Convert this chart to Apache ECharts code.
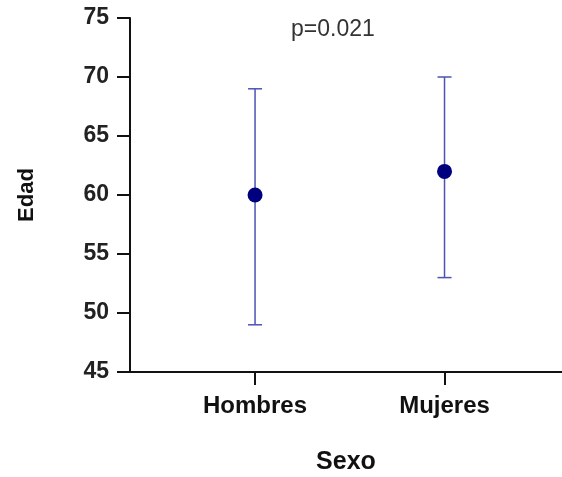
<!DOCTYPE html>
<html>
<head>
<meta charset="utf-8">
<script src="https://cdn.jsdelivr.net/npm/echarts@6/dist/echarts.min.js"></script>
<style>html,body{margin:0;padding:0;background:#fff}#c{width:562px;height:477px}</style>
</head>
<body>
<div id="c"></div>
<script>
var categories = ['Hombres', 'Mujeres'];
var catPositions = [1, 2];
var means = [60, 62];
var lows = [49, 53];
var highs = [69, 70];
var yTicks = [45, 50, 55, 60, 65, 70, 75];
var pText = 'p=0.021';

var chart = echarts.init(document.getElementById('c'));
var errData = catPositions.map(function (x, i) { return [x, lows[i], highs[i]]; });
var meanData = catPositions.map(function (x, i) { return [x, means[i]]; });

chart.setOption({
  animation: false,
  grid: { left: 130, right: 0, top: 18, bottom: 105, outerBoundsMode: 'none', containLabel: false },
  xAxis: {
    type: 'value', min: 0.34, max: 2.62,
    name: 'Sexo', nameLocation: 'middle', nameGap: 78,
    nameTextStyle: { fontFamily: 'Liberation Sans', fontWeight: 'bold', fontSize: 25, color: '#111' },
    axisLine: { show: true, lineStyle: { color: '#111', width: 2 } },
    axisTick: { show: true, customValues: catPositions, length: 13, lineStyle: { color: '#111', width: 2 } },
    axisLabel: { customValues: catPositions, margin: 22, fontFamily: 'Liberation Sans', fontWeight: 'bold', fontSize: 24, color: '#111',
      formatter: function (v) { var i = catPositions.indexOf(v); return i >= 0 ? categories[i] : ''; } },
    splitLine: { show: false }
  },
  yAxis: {
    type: 'value', min: 45, max: 75, interval: 5,
    name: 'Edad', nameLocation: 'middle', nameGap: 92, nameRotate: 90,
    nameTextStyle: { fontFamily: 'Liberation Sans', fontWeight: 'bold', fontSize: 22, color: '#111' },
    axisLine: { show: true, lineStyle: { color: '#111', width: 2 } },
    axisTick: { show: true, length: 13, lineStyle: { color: '#111', width: 2 } },
    axisLabel: { margin: 21, fontFamily: 'Liberation Sans', fontWeight: 'bold', fontSize: 23, color: '#222',
      formatter: function (v) { return yTicks.indexOf(v) >= 0 ? String(v) : ''; } },
    splitLine: { show: false }
  },
  graphic: [{
    type: 'text', left: 291, top: 18,
    style: { text: pText, fontFamily: 'Liberation Sans', fontSize: 23, fill: '#333' }
  }],
  series: [{
    type: 'custom',
    data: errData,
    renderItem: function (params, api) {
      var x = api.value(0);
      var lo = api.coord([x, api.value(1)]);
      var hi = api.coord([x, api.value(2)]);
      var w = 7;
      var style = { stroke: '#4d52b3', lineWidth: 1.5, fill: null };
      return { type: 'group', children: [
        { type: 'line', shape: { x1: lo[0], y1: lo[1], x2: hi[0], y2: hi[1] }, style: style },
        { type: 'line', shape: { x1: hi[0] - w, y1: hi[1], x2: hi[0] + w, y2: hi[1] }, style: style },
        { type: 'line', shape: { x1: lo[0] - w, y1: lo[1], x2: lo[0] + w, y2: lo[1] }, style: style }
      ] };
    },
    z: 2
  }, {
    type: 'scatter',
    data: meanData,
    symbol: 'circle', symbolSize: 15,
    itemStyle: { color: '#00007f', opacity: 1 },
    z: 3
  }]
});
</script>
</body>
</html>
